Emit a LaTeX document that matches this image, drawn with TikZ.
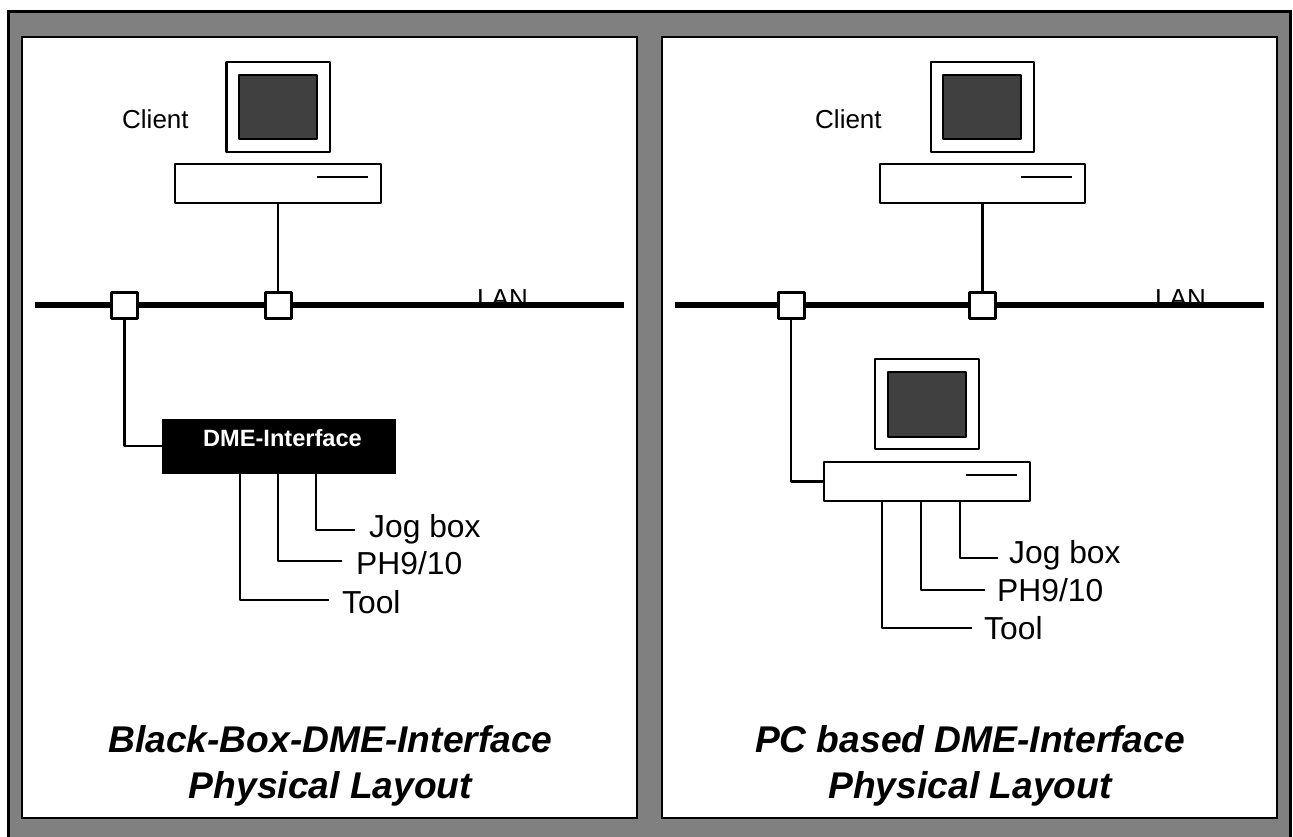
\documentclass[tikz,border=0pt]{standalone}
\usepackage{fontspec}
\setmainfont{Liberation Sans}
\definecolor{framegray}{RGB}{128,128,128}
\definecolor{screengray}{RGB}{64,64,64}
\tikzset{
  box/.style={draw=black,line width=2.4pt,fill=white,line join=round},
  port/.style={draw=black,line width=3pt,fill=white,line join=round,minimum width=26pt,minimum height=26pt,inner sep=0pt},
  wire/.style={draw=black,line width=2.4pt,line join=round},
  bus/.style={draw=black,line width=5.5pt},
  lbl/.style={inner sep=0pt,anchor=base west,font=\fontsize{31.8}{31.8}\selectfont},
  small/.style={inner sep=0pt,anchor=base west,font=\fontsize{26}{26}\selectfont},
  ttl/.style={inner sep=0pt,anchor=base,font=\fontsize{37.2}{37.2}\selectfont\bfseries\itshape}
}
\begin{document}
\begin{tikzpicture}[x=1pt,y=-1pt]
\useasboundingbox (0,0) rectangle (1293,837);
\fill[white] (0,0) rectangle (1293,837);
\begin{scope}
\clip (0,0) rectangle (1293,837);
\draw[line width=3pt,fill=framegray] (8.5,11.5) rectangle (1290,845);
\end{scope}
\draw[line width=2.4pt,fill=white] (22,37) rectangle (637,818);
\draw[line width=2.4pt,fill=white] (662,37) rectangle (1277,818);
% left panel
\node[small] (lanA) at (477,307) {LAN};
\node[small] (clientA) at (122,129) {Client};
\draw[bus] (35,305) coordinate (busAl) -- (624,305) coordinate (busAr);
\node[box,minimum width=103.5pt,minimum height=90pt,inner sep=0pt] (monA) at (278.25,107) {};
\node[box,fill=screengray,minimum width=78pt,minimum height=64pt,inner sep=0pt] (scrA) at (278,107) {};
\node[box,minimum width=206pt,minimum height=39pt,inner sep=0pt] (baseA) at (278,183.5) {};
\draw[wire] (317,177) coordinate (ledAl) -- (368,177) coordinate (ledAr);
\node[port] (p1A) at (124.5,305.5) {};
\node[port] (p2A) at (278,305.5) {};
\draw[wire] (baseA.south) -- (p2A.north);
\node[draw=black,fill=black,minimum width=233pt,minimum height=54pt,inner sep=0pt] (dme) at (278.5,446) {};
\node[inner sep=0pt,text=white,anchor=base,font=\fontsize{23.6}{23.6}\selectfont\bfseries] (dmeT) at (282.5,446) {DME-Interface};
\draw[wire] (p1A.south) |- (dme.west);
\node[lbl] (jogA) at (369,537) {Jog box};
\node[lbl] (phA) at (356,574) {PH9/10};
\node[lbl] (toolA) at (342,613) {Tool};
\coordinate (jA) at (355,530); \coordinate (pA) at (342,561); \coordinate (tA) at (329,600);
\draw[wire] (316,473) |- (jA);
\draw[wire] (278,473) |- (pA);
\draw[wire] (240,473) |- (tA);
\node[ttl] (t1A) at (330.5,752) {Black-Box-DME-Interface};
\node[ttl] (t2A) at (330.5,798) {Physical Layout};
% right panel
\node[small] (lanB) at (1155,307) {LAN};
\node[small] (clientB) at (815,129) {Client};
\draw[bus] (675,305) coordinate (busBl) -- (1264,305) coordinate (busBr);
\node[box,minimum width=103pt,minimum height=90pt,inner sep=0pt] (monB) at (982.5,107) {};
\node[box,fill=screengray,minimum width=78pt,minimum height=64pt,inner sep=0pt] (scrB) at (982,107) {};
\node[box,minimum width=205pt,minimum height=39pt,inner sep=0pt] (baseB) at (982.5,183.5) {};
\draw[wire] (1021,177) coordinate (ledBl) -- (1072,177) coordinate (ledBr);
\node[port] (p1B) at (791,305.5) {};
\node[port] (p2B) at (982.5,305.5) {};
\draw[wire] (baseB.south) -- (p2B.north);
\node[box,minimum width=104pt,minimum height=90pt,inner sep=0pt] (monC) at (927,404) {};
\node[box,fill=screengray,minimum width=78pt,minimum height=65pt,inner sep=0pt] (scrC) at (927,404.5) {};
\node[box,minimum width=206pt,minimum height=39pt,inner sep=0pt] (baseC) at (927,481.5) {};
\draw[wire] (966,475) coordinate (ledCl) -- (1017,475) coordinate (ledCr);
\draw[wire] (p1B.south) |- (baseC.west);
\node[lbl] (jogB) at (1009,563) {Jog box};
\node[lbl] (phB) at (997,601) {PH9/10};
\node[lbl] (toolB) at (984,639) {Tool};
\coordinate (jB) at (998,558); \coordinate (pB) at (985,590); \coordinate (tB) at (972,628);
\draw[wire] (960,501) |- (jB);
\draw[wire] (921,501) |- (pB);
\draw[wire] (882,501) |- (tB);
\node[ttl] (t1B) at (970,752) {PC based DME-Interface};
\node[ttl] (t2B) at (970,798) {Physical Layout};
\end{tikzpicture}
\end{document}
